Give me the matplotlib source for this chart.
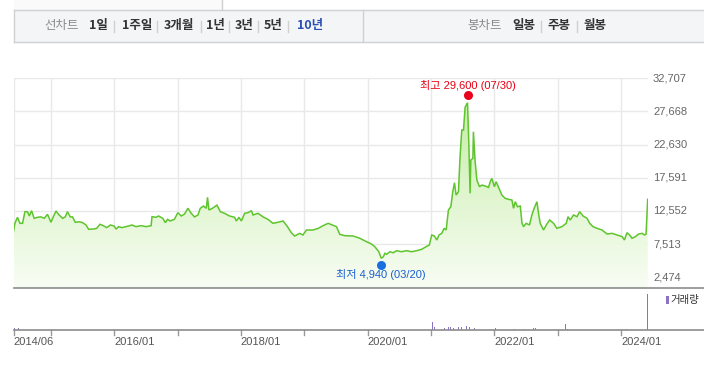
import numpy as np
import pandas as pd
import matplotlib
matplotlib.use("Agg")
import matplotlib.pyplot as plt
import matplotlib.dates as mdates
from matplotlib.colors import LinearSegmentedColormap
from matplotlib.patches import Rectangle, PathPatch
from matplotlib.lines import Line2D
import matplotlib.transforms as mtransforms

plt.rcParams['font.family'] = ['Liberation Sans', 'Noto Sans CJK KR', 'DejaVu Sans']

# ---------------- data ----------------
price_dates = [
    "2014-06-01", "2014-06-09", "2014-06-24", "2014-07-08", "2014-07-23", "2014-08-06", "2014-08-21",
    "2014-08-31", "2014-09-13", "2014-09-28", "2014-10-17", "2014-11-06", "2014-11-25", "2014-12-14",
    "2015-01-03", "2015-01-16", "2015-02-01", "2015-02-15", "2015-03-11", "2015-03-26", "2015-04-08",
    "2015-04-24", "2015-05-07", "2015-05-23", "2015-06-15", "2015-07-04", "2015-07-24", "2015-08-08",
    "2015-08-31", "2015-09-23", "2015-10-12", "2015-10-31", "2015-11-20", "2015-12-11", "2016-01-01",
    "2016-01-13", "2016-01-28", "2016-02-16", "2016-03-10", "2016-04-14", "2016-05-07", "2016-06-05",
    "2016-07-04", "2016-08-02", "2016-08-07", "2016-08-30", "2016-09-14", "2016-10-08", "2016-10-23",
    "2016-11-05", "2016-11-19", "2016-12-14", "2017-01-03", "2017-01-23", "2017-02-11", "2017-03-02",
    "2017-03-21", "2017-04-09", "2017-04-29", "2017-05-12", "2017-05-31", "2017-06-16", "2017-06-23",
    "2017-07-01", "2017-07-21", "2017-08-03", "2017-08-16", "2017-09-05", "2017-09-29", "2017-10-28",
    "2017-11-26", "2017-12-06", "2017-12-21", "2018-01-04", "2018-01-23", "2018-02-11", "2018-03-03",
    "2018-03-12", "2018-04-10", "2018-05-09", "2018-06-06", "2018-07-05", "2018-08-03", "2018-09-01",
    "2018-09-24", "2018-10-19", "2018-11-07", "2018-12-06", "2018-12-25", "2019-01-14", "2019-02-21",
    "2019-03-22", "2019-04-20", "2019-05-19", "2019-06-13", "2019-07-06", "2019-07-25", "2019-08-23",
    "2019-10-10", "2019-11-18", "2019-12-26", "2020-01-24", "2020-02-12", "2020-03-06", "2020-03-20",
    "2020-04-01", "2020-04-10", "2020-04-20", "2020-05-09", "2020-05-28", "2020-06-16", "2020-07-15",
    "2020-08-13", "2020-09-11", "2020-10-10", "2020-11-08", "2020-12-03", "2020-12-22", "2021-01-05",
    "2021-01-20", "2021-02-03", "2021-02-16", "2021-03-04", "2021-03-17", "2021-03-29", "2021-04-11",
    "2021-04-25", "2021-05-06", "2021-05-16", "2021-05-25", "2021-06-08", "2021-06-17", "2021-06-27",
    "2021-07-07", "2021-07-16", "2021-07-30", "2021-08-06", "2021-08-14", "2021-08-18", "2021-08-30",
    "2021-09-02", "2021-09-12", "2021-09-22", "2021-10-07", "2021-10-21", "2021-11-09", "2021-11-28",
    "2021-12-08", "2021-12-17", "2022-01-01", "2022-01-11", "2022-01-25", "2022-02-13", "2022-03-04",
    "2022-03-23", "2022-04-12", "2022-04-21", "2022-05-01", "2022-05-14", "2022-05-30", "2022-06-09",
    "2022-06-18", "2022-07-03", "2022-07-22", "2022-08-05", "2022-08-18", "2022-09-03", "2022-09-12",
    "2022-09-22", "2022-10-11", "2022-10-27", "2022-11-15", "2022-12-08", "2022-12-27", "2023-01-25",
    "2023-02-19", "2023-03-01", "2023-03-14", "2023-04-02", "2023-04-22", "2023-05-07", "2023-05-27",
    "2023-06-19", "2023-07-04", "2023-07-23", "2023-08-15", "2023-09-13", "2023-10-12", "2023-11-10",
    "2023-12-09", "2024-01-07", "2024-01-20", "2024-02-04", "2024-02-19", "2024-03-04", "2024-03-23",
    "2024-04-11", "2024-05-01", "2024-05-14", "2024-05-24", "2024-06-02",
]
price_values = [
    9400, 10675, 11588, 10675, 10675, 12440, 12440,
    11785, 12590, 11437, 11588, 11650, 11437, 12044,
    10830, 11650, 12545, 12044, 11437, 11650, 12440,
    11650, 11650, 10830, 10900, 10780, 10418, 9765,
    9800, 9900, 10525, 10320, 10020, 10418, 10268,
    9800, 10170, 10020, 10170, 10418, 10170, 10320,
    10170, 10320, 11680, 11588, 11785, 11437, 10780,
    11280, 11030, 11280, 12290, 11785, 12095, 12955,
    12195, 11650, 11940, 12955, 13305, 12955, 14626,
    12700, 12955, 13200, 13440, 12440, 12195, 11785,
    11588, 11030, 11588, 11030, 12195, 12290, 12590,
    11940, 12195, 11650, 11280, 10675, 10830, 11030,
    10268, 9250, 8750, 9150, 8900, 9660, 9660,
    9900, 10320, 10675, 10418, 10170, 9000, 8800,
    8750, 8400, 7880, 7530, 7120, 6360, 5360,
    5600, 6120, 5970, 6360, 6200, 6515, 6360,
    6515, 6360, 6515, 6727, 7120, 7380, 8900,
    8750, 8140, 8900, 9160, 9915, 9660, 12697,
    13200, 15475, 16845, 14975, 15475, 20790, 24850,
    24850, 28300, 29000, 23330, 15230, 20290, 20540,
    24590, 20030, 17250, 16236, 16490, 16340, 16135,
    16996, 17510, 16236, 16996, 16135, 14975, 14470,
    14320, 14215, 12955, 13960, 13200, 13300, 10675,
    10170, 10675, 10420, 11940, 12955, 13960, 12195,
    10675, 9660, 10420, 11180, 10675, 9915, 10170,
    10675, 11680, 11180, 11940, 11680, 12440, 11785,
    11437, 10675, 10170, 9915, 9660, 9050, 9150,
    8900, 8650, 8140, 9250, 8900, 8400, 8650,
    9050, 9150, 8900, 9050, 14320,
]

volume_dates = [
    "2014-06-05", "2014-07-01", "2014-07-25", "2016-08-12", "2020-06-01", "2020-09-08", "2020-12-15",
    "2021-01-08", "2021-01-20", "2021-03-20", "2021-04-10", "2021-04-25", "2021-05-10", "2021-05-25",
    "2021-06-10", "2021-06-25", "2021-07-10", "2021-07-25", "2021-08-10", "2021-08-25", "2021-09-10",
    "2021-09-28", "2022-01-06", "2022-04-25", "2022-06-18", "2022-08-15", "2022-08-25", "2023-02-14",
    "2023-02-25", "2024-02-01", "2024-05-29", "2024-05-31",
]
volume_values = [
    360000, 360000, 300000, 250000, 250000, 550000, 450000,
    2000000, 600000, 500000, 600000, 700000, 550000, 750000,
    600000, 800000, 650000, 950000, 700000, 500000, 450000,
    400000, 550000, 250000, 250000, 550000, 500000, 1450000,
    350000, 200000, 6400000, 8600000,
]

y_ticks = [2474, 7513, 12552, 17591, 22630, 27668, 32707]
x_label_dates = ["2014-06-01", "2016-01-01", "2018-01-01", "2020-01-01", "2022-01-01", "2024-01-01"]
x_label_texts = ["2014/06", "2016/01", "2018/01", "2020/01", "2022/01", "2024/01"]
x_grid_dates = ["2014-06-01", "2015-01-01", "2016-01-01", "2017-01-01", "2018-01-01", "2019-01-01",
                "2020-01-01", "2021-01-01", "2022-01-01", "2023-01-01", "2024-01-01"]

high_date, high_value, high_text = "2021-07-30", 29600, "최고 29,600 (07/30)"
low_date, low_value, low_text = "2020-03-20", 4940, "최저 4,940 (03/20)"

left_tabs = ["1일", "1주일", "3개월", "1년", "3년", "5년", "10년"]
right_tabs = ["일봉", "주봉", "월봉"]

# ---------------- figure ----------------
W, H = 704, 366
fig = plt.figure(figsize=(W / 100, H / 100), dpi=100)
fig.patch.set_facecolor('white')

def fx(px):
    return px / W

def fy(py):
    return 1 - py / H

L, R = 13.5, 648.0
P_TOP, P_BOT = 78.3, 287.7
V_TOP, V_BOT = 288.0, 330.0

ax = fig.add_axes([fx(L), fy(P_BOT), fx(R - L), (P_BOT - P_TOP) / H])
axv = fig.add_axes([fx(L), fy(V_BOT), fx(R - L), (V_BOT - V_TOP) / H])

d = pd.to_datetime(price_dates)
v = np.array(price_values, dtype=float)
xmin = mdates.date2num(pd.Timestamp("2014-06-01"))
xmax = mdates.date2num(pd.Timestamp("2024-06-04"))
ybot, ytop = 894, 32707

for a in (ax, axv):
    a.set_xlim(xmin, xmax)
    for s in a.spines.values():
        s.set_visible(False)
    a.set_facecolor('none')
    a.tick_params(left=False, right=False, top=False, bottom=False,
                  labelleft=False, labelright=False, labelbottom=False)

ax.set_ylim(ybot, ytop)

# grid
for yt in y_ticks:
    ax.axhline(yt, color='#e9e9e9', lw=1, zorder=0)
for gd in x_grid_dates:
    ax.axvline(mdates.date2num(pd.Timestamp(gd)), color='#e9e9e9', lw=1, zorder=0)

# gradient fill under the line
dn = mdates.date2num(d)
poly = ax.fill_between(dn, v, ybot, color='none', lw=0)
path = poly.get_paths()[0]
grad = np.linspace(0, 1, 256).reshape(-1, 1)
cmap = LinearSegmentedColormap.from_list('g', ['#f8fdf4', '#c2eca0'])
im = ax.imshow(grad, aspect='auto', cmap=cmap, origin='lower',
               extent=[xmin, xmax, ybot, ytop], zorder=1, interpolation='bilinear')
patch = PathPatch(path, transform=ax.transData, facecolor='none', edgecolor='none')
ax.add_patch(patch)
im.set_clip_path(patch)
ax.set_xlim(xmin, xmax)
ax.set_ylim(ybot, ytop)

ax.plot(dn, v, color='#5ec52e', lw=1.1, zorder=3, solid_joinstyle='miter')

# y labels on right
off = mtransforms.offset_copy(ax.get_yaxis_transform(), fig=fig, x=5, y=0, units='dots')
for yt in y_ticks:
    ax.text(1.0, yt, f"{yt:,}", transform=off, ha='left', va='center', fontsize=8, color='#666666')

# high / low markers
hx = mdates.date2num(pd.Timestamp(high_date))
lx = mdates.date2num(pd.Timestamp(low_date))
t_hi = mtransforms.offset_copy(ax.transData, fig=fig, x=0, y=3.5, units='dots')
t_lo = mtransforms.offset_copy(ax.transData, fig=fig, x=0, y=-3.5, units='dots')
ax.plot([hx], [high_value], 'o', color='#e8001c', ms=6.5, mec='none', transform=t_hi, zorder=5, clip_on=False)
ax.plot([lx], [low_value], 'o', color='#1a6ee0', ms=6.5, mec='none', transform=t_lo, zorder=5, clip_on=False)
t_hi2 = mtransforms.offset_copy(ax.transData, fig=fig, x=0, y=13.5, units='dots')
t_lo2 = mtransforms.offset_copy(ax.transData, fig=fig, x=0, y=-13, units='dots')
ax.text(hx, high_value, high_text, transform=t_hi2, ha='center', va='center', fontsize=8,
        color='#e60012', zorder=6, clip_on=False)
ax.text(lx, low_value, low_text, transform=t_lo2, ha='center', va='center', fontsize=8,
        color='#1a5fd0', zorder=6, clip_on=False)

# volume
vd = mdates.date2num(pd.to_datetime(volume_dates))
axv.bar(vd, volume_values, width=4, color='#8a72c6', linewidth=0, align='center')
axv.set_ylim(0, 10_000_000)

# volume x ticks / labels
tick_tr = mtransforms.blended_transform_factory(axv.transData, fig.transFigure)
for gd in x_grid_dates:
    gx = mdates.date2num(pd.Timestamp(gd))
    fig.add_artist(Line2D([gx, gx], [fy(V_BOT), fy(V_BOT + 5)], transform=tick_tr,
                          color='#999999', lw=1))
for ld, lt in zip(x_label_dates, x_label_texts):
    gx = mdates.date2num(pd.Timestamp(ld))
    fig.text(gx, fy(342), lt, transform=tick_tr, ha='left', va='center', fontsize=8, color='#555555')

# legend for volume
fig.add_artist(Rectangle((fx(666), fy(304)), fx(2.5), 8 / H, transform=fig.transFigure,
                         facecolor='#8a72c6', edgecolor='none'))
fig.text(fx(670.5), fy(300), "거래량", fontsize=7.5, color='#333333', ha='left', va='center',
         family=['Noto Sans CJK KR', 'DejaVu Sans'])

# axis lines extending to the right edge
fig.add_artist(Line2D([fx(L), 1], [fy(P_BOT), fy(P_BOT)], transform=fig.transFigure, color='#8c8c8c', lw=1.2))
fig.add_artist(Line2D([fx(L), 1], [fy(V_BOT), fy(V_BOT)], transform=fig.transFigure, color='#8c8c8c', lw=1.2))

# ---------------- top tab bar ----------------
BAR_T, BAR_B = 10, 41.7
fig.add_artist(Rectangle((fx(L), fy(BAR_T)), fx(221.7 - L), BAR_T / H, transform=fig.transFigure,
                         facecolor='#fafafa', edgecolor='none'))
fig.add_artist(Rectangle((fx(L), fy(BAR_B)), 1 - fx(L), (BAR_B - BAR_T) / H, transform=fig.transFigure,
                         facecolor='#f4f5f7', edgecolor='none'))
for yy in (BAR_T, BAR_B):
    fig.add_artist(Line2D([fx(L), 1], [fy(yy), fy(yy)], transform=fig.transFigure, color='#cfd1d5', lw=1))
fig.add_artist(Line2D([fx(L), fx(L)], [fy(BAR_T), fy(BAR_B)], transform=fig.transFigure, color='#cfd1d5', lw=1))
fig.add_artist(Line2D([fx(363), fx(363)], [fy(BAR_T), fy(BAR_B)], transform=fig.transFigure, color='#cfd1d5', lw=1))
fig.add_artist(Line2D([fx(221.7), fx(221.7)], [fy(0), fy(BAR_T)], transform=fig.transFigure, color='#cfd1d5', lw=1))

ty = fy(25.5)
kf = ['Noto Sans CJK KR', 'DejaVu Sans']
fig.text(fx(61.3), ty, "선차트", fontsize=9, color='#8a8a8a', ha='center', va='center', family=kf)
left_x = [98, 137, 179, 215, 244, 273, 310]
sep_left = [114, 157, 201, 229, 258, 288]
for i, (t, x) in enumerate(zip(left_tabs, left_x)):
    col = '#2a4fb5' if t == "10년" else '#333333'
    fig.text(fx(x), ty, t, fontsize=9, color=col, ha='center', va='center', weight='bold', family=kf)
for x in sep_left:
    fig.add_artist(Line2D([fx(x), fx(x)], [fy(20.7), fy(31.7)], transform=fig.transFigure, color='#d0d0d0', lw=1))
fig.text(fx(485), ty, "봉차트", fontsize=9, color='#8a8a8a', ha='center', va='center', family=kf)
right_x = [524, 559.5, 595]
sep_right = [541, 577]
for t, x in zip(right_tabs, right_x):
    fig.text(fx(x), ty, t, fontsize=9, color='#333333', ha='center', va='center', weight='bold', family=kf)
for x in sep_right:
    fig.add_artist(Line2D([fx(x), fx(x)], [fy(20.7), fy(31.7)], transform=fig.transFigure, color='#d0d0d0', lw=1))

fig.savefig("out.png", dpi=100)
